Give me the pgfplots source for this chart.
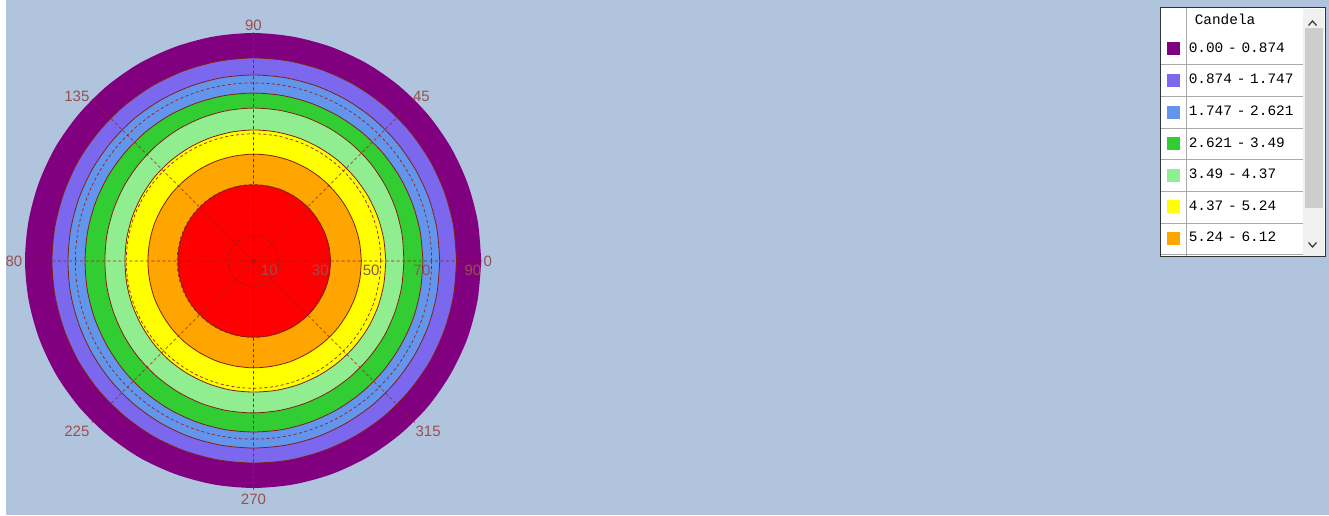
\documentclass[border=0pt]{standalone}
\usepackage{pgfplots}
\usepgfplotslibrary{polar}
\usepackage{pgfplotstable}
\pgfplotsset{compat=1.18}
\usepackage{fontspec}
\setmainfont{Liberation Sans}
\newfontfamily\legfont{Liberation Mono}
\definecolor{bgblue}{RGB}{176,196,222}
\definecolor{cpurple}{RGB}{128,0,128}
\definecolor{clav}{RGB}{123,104,238}
\definecolor{cblue}{RGB}{100,149,237}
\definecolor{cgreen}{RGB}{50,205,50}
\definecolor{clgreen}{RGB}{144,238,144}
\definecolor{cyellow}{RGB}{255,255,0}
\definecolor{corange}{RGB}{255,165,0}
\definecolor{cred}{RGB}{255,0,0}
\definecolor{gridred}{RGB}{150,30,30}
\definecolor{ringline}{RGB}{130,30,20}
\definecolor{labelred}{RGB}{150,80,80}
\definecolor{sbtrack}{RGB}{240,240,240}
\definecolor{sbthumb}{RGB}{205,205,205}
\definecolor{sepgray}{RGB}{170,170,170}

% per-tick placement of the angle labels
\def\setlab#1{%
  \pgfmathparse{int(round(#1))}\edef\tk{\pgfmathresult}%
  \ifcase\numexpr\tk/45\relax
    \gdef\lanc{west}\gdef\lxs{0pt}\gdef\lys{0pt}%      0
  \or\gdef\lanc{west}\gdef\lxs{-3.5pt}\gdef\lys{3pt}%  45
  \or\gdef\lanc{south}\gdef\lxs{0pt}\gdef\lys{0pt}%    90
  \or\gdef\lanc{east}\gdef\lxs{-1pt}\gdef\lys{3pt}%    135
  \or\gdef\lanc{east}\gdef\lxs{-1pt}\gdef\lys{0pt}%    180
  \or\gdef\lanc{east}\gdef\lxs{-1pt}\gdef\lys{-8pt}%   225
  \or\gdef\lanc{north}\gdef\lxs{0pt}\gdef\lys{-3pt}%   270
  \or\gdef\lanc{west}\gdef\lxs{-1pt}\gdef\lys{-8pt}%   315
  \else\gdef\lanc{center}\gdef\lxs{0pt}\gdef\lys{0pt}%
  \fi}

% outer radius of each iso-candela band (polar angle units, 0..90)
\pgfplotstableread{
ang  p1   p2   p3   p4   p5   p6   p7   p8
0    89.5 79.8 73.2 66.6 59.1 52.0 42.4 30.3
10   89.5 79.8 73.2 66.5 59.3 51.9 42.3 30.2
20   89.5 79.8 73.2 66.4 59.5 51.8 42.2 30.1
30   89.5 79.8 73.1 66.3 59.7 51.7 42.1 30.0
40   89.5 79.8 73.1 66.2 59.9 51.6 42.0 30.0
50   89.5 79.8 73.1 66.1 60.0 51.6 42.0 30.0
60   89.5 79.8 73.1 66.0 60.1 51.5 42.0 30.0
70   89.5 79.8 73.1 66.0 60.1 51.5 42.0 30.0
80   89.5 79.8 73.1 66.0 60.1 51.5 42.0 29.9
90   89.6 79.8 73.1 66.0 60.1 51.5 42.0 29.9
100  89.6 79.7 73.1 66.0 60.0 51.4 41.9 29.9
110  89.6 79.6 73.0 66.0 59.8 51.3 41.9 29.9
120  89.7 79.5 73.0 66.1 59.6 51.2 41.8 29.9
130  89.7 79.4 73.0 66.1 59.3 51.1 41.7 29.8
140  89.7 79.3 72.9 66.1 59.0 51.0 41.7 29.8
150  89.8 79.3 72.9 66.2 58.8 50.8 41.6 29.8
160  89.8 79.2 72.9 66.2 58.6 50.7 41.6 29.7
170  89.8 79.2 72.9 66.2 58.5 50.6 41.5 29.7
180  89.8 79.2 72.9 66.2 58.4 50.5 41.5 29.7
190  89.7 79.2 73.0 66.3 58.5 50.6 41.5 29.7
200  89.6 79.2 73.0 66.4 58.6 50.7 41.6 29.7
210  89.5 79.3 73.1 66.5 58.8 50.8 41.6 29.8
220  89.4 79.3 73.2 66.7 59.0 51.0 41.7 29.8
230  89.3 79.3 73.3 66.9 59.2 51.2 41.8 29.8
240  89.3 79.4 73.4 67.0 59.4 51.3 41.8 29.9
250  89.2 79.4 73.5 67.1 59.6 51.4 41.9 29.9
260  89.2 79.4 73.5 67.2 59.7 51.5 41.9 29.9
270  89.2 79.4 73.5 67.2 59.7 51.5 42.0 29.9
280  89.2 79.5 73.5 67.2 59.6 51.6 42.0 30.0
290  89.2 79.5 73.5 67.1 59.5 51.7 42.1 30.0
300  89.2 79.6 73.4 67.0 59.4 51.8 42.1 30.1
310  89.2 79.7 73.4 66.9 59.3 51.9 42.2 30.1
320  89.3 79.7 73.3 66.8 59.2 52.0 42.3 30.2
330  89.3 79.8 73.3 66.7 59.2 52.1 42.3 30.2
340  89.4 79.8 73.3 66.7 59.1 52.1 42.4 30.3
350  89.4 79.8 73.2 66.6 59.1 52.0 42.4 30.3
360  89.5 79.8 73.2 66.6 59.1 52.0 42.4 30.3
}\rings

\begin{document}
\begin{tikzpicture}
\useasboundingbox (0pt,0pt) rectangle (1329pt,516pt);
\clip (0pt,0pt) rectangle (1329pt,516pt);
\fill[bgblue] (0pt,0pt) rectangle (1329pt,516pt);
% legend frame (list box) and scroll bar
\fill[white] (1160pt,508pt) rectangle (1325pt,259pt);
\fill[sbtrack] (1303pt,507pt) rectangle (1324pt,260pt);
\fill[sbthumb] (1305pt,488pt) rectangle (1323pt,308pt);
\draw[line width=1.3pt, black!75] (1308.5pt,490.5pt) -- (1312.5pt,495pt) -- (1316.5pt,490.5pt);
\draw[line width=1.3pt, black!75] (1308.5pt,273.5pt) -- (1312.5pt,269pt) -- (1316.5pt,273.5pt);
\foreach \yy in {452,420,388,357,325,293,262}
  \draw[sepgray, line width=0.8pt] (1160pt,\yy pt) -- (1303pt,\yy pt);
\draw[sepgray, line width=0.8pt] (1186pt,508pt) -- (1186pt,259pt);
\draw[black!80, line width=1pt] (1160pt,508pt) rectangle (1325pt,259pt);

\begin{polaraxis}[
  at={(253.5pt,255pt)}, anchor=center,
  scale only axis, width=458pt, height=458pt,
  ymin=0, ymax=90,
  xtick={0,45,...,315},
  ytick={10,30,50,70},
  extra y ticks={90},
  extra y tick style={grid=none},
  grid=major,
  major grid style={draw=gridred, dash pattern=on 3pt off 2.5pt, line width=0.7pt},
  axis line style={draw=none},
  major tick length=0pt,
  tick label style={font=\fontsize{15}{15}\selectfont, text=labelred},
  xticklabel style={/utils/exec={\setlab{\tick}}, anchor=\lanc, xshift=\lxs, yshift=\lys, inner sep=1pt},
  yticklabel style={anchor=north east, inner sep=1pt, yshift=-3pt},
  axis on top,
  /pgf/number format/assume math mode=true,
  legend style={
    at={(2.4793,1.0502)}, anchor=north west,
    draw=none, fill=none, inner sep=0pt, outer sep=0pt,
    row sep=0pt, column sep=0pt,
    nodes={inner xsep=2pt, inner ysep=0pt, text width=113pt,
      minimum height=31.6pt, text height=10pt, text depth=3pt, align=left,
      font=\legfont\fontsize{14.4}{15}\selectfont, text=black},
    cells={anchor=center},
  },
  legend image code/.code={\path (-7pt,0pt) (19pt,0pt); \path[#1,draw=none] (0pt,-6.5pt) rectangle (13pt,6.5pt);},
]
\addlegendimage{empty legend}
\addlegendentry[minimum height=24pt]{\hspace*{6pt}Candela}
\addplot[smooth, fill=cpurple, draw=none] table[x=ang, y=p1] {\rings};
\addlegendentry{0.00 - 0.874}
\addplot[smooth, fill=clav, draw=ringline, line width=0.8pt] table[x=ang, y=p2] {\rings};
\addlegendentry{0.874 - 1.747}
\addplot[smooth, fill=cblue, draw=ringline, line width=0.8pt] table[x=ang, y=p3] {\rings};
\addlegendentry{1.747 - 2.621}
\addplot[smooth, fill=cgreen, draw=ringline, line width=0.8pt] table[x=ang, y=p4] {\rings};
\addlegendentry{2.621 - 3.49}
\addplot[smooth, fill=clgreen, draw=ringline, line width=0.8pt] table[x=ang, y=p5] {\rings};
\addlegendentry{3.49 - 4.37}
\addplot[smooth, fill=cyellow, draw=ringline, line width=0.8pt] table[x=ang, y=p6] {\rings};
\addlegendentry{4.37 - 5.24}
\addplot[smooth, fill=corange, draw=ringline, line width=0.8pt] table[x=ang, y=p7] {\rings};
\addlegendentry{5.24 - 6.12}
\addplot[smooth, fill=cred, draw=ringline, line width=0.8pt, forget plot] table[x=ang, y=p8] {\rings};
\end{polaraxis}
\fill[white] (0pt,0pt) rectangle (6pt,516pt);
\fill[white] (0pt,0pt) rectangle (1329pt,1.2pt);
\end{tikzpicture}
\end{document}
